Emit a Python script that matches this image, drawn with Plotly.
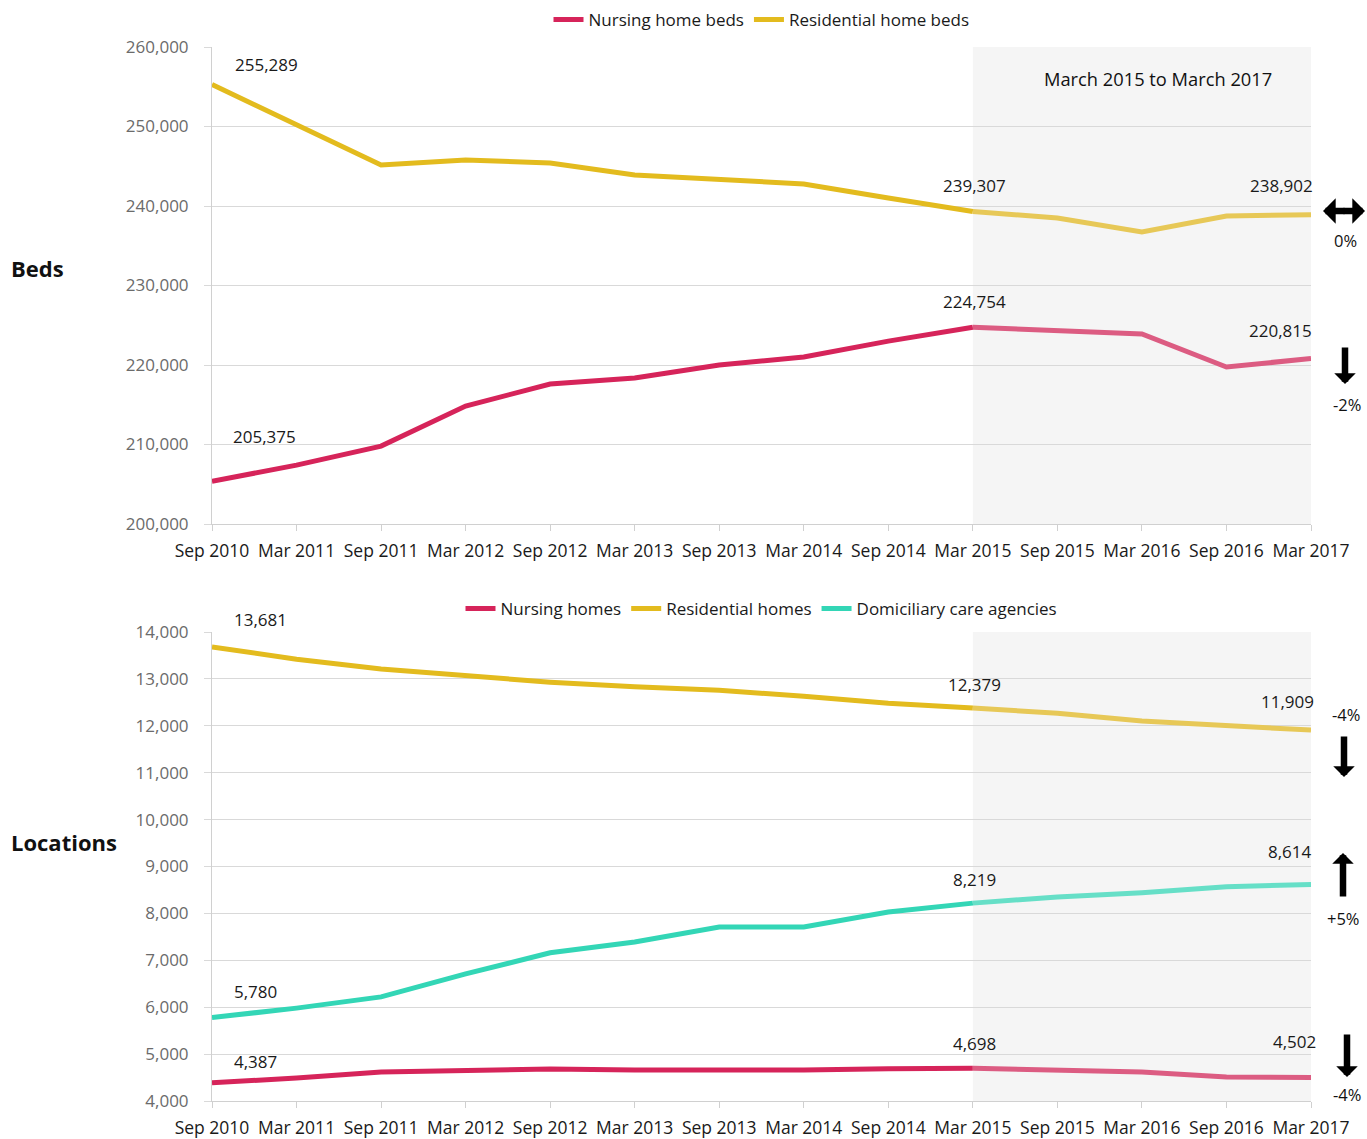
import plotly.graph_objects as go
from plotly.subplots import make_subplots

periods = ["Sep 2010", "Mar 2011", "Sep 2011", "Mar 2012", "Sep 2012", "Mar 2013", "Sep 2013",
           "Mar 2014", "Sep 2014", "Mar 2015", "Sep 2015", "Mar 2016", "Sep 2016", "Mar 2017"]

nursing_beds = [205375, 207400, 209800, 214840, 217600, 218360, 220000, 221000, 223000,
                224754, 224400, 223900, 219750, 220815]
residential_beds = [255289, 250200, 245160, 245790, 245400, 243900, 243400, 242770, 241000,
                    239307, 238490, 236730, 238740, 238902]

nursing_homes = [4387, 4490, 4620, 4660, 4680, 4660, 4660, 4660, 4690,
                 4698, 4670, 4620, 4510, 4502]
residential_homes = [13681, 13420, 13210, 13060, 12930, 12830, 12760, 12630, 12480,
                     12379, 12270, 12100, 12010, 11909]
domiciliary = [5780, 5980, 6220, 6710, 7160, 7390, 7710, 7710, 8030,
               8219, 8350, 8440, 8570, 8614]

beds_ticks = [200000, 210000, 220000, 230000, 240000, 250000, 260000]
loc_ticks = list(range(4000, 15000, 1000))

FONT = "Open Sans"
RED, RED_L = "#d6245a", "#dc5c82"
GOLD, GOLD_L = "#e3bb1e", "#e7c857"
TEAL, TEAL_L = "#33d6b6", "#66dfc7"

W, H = 1367, 1139
ML, MR, MT, MB = 212, 56, 47, 38
PH = H - MT - MB

def py(pix):
    return (H - MB - pix) / PH

fig = make_subplots(rows=2, cols=1)
fig.update_layout(yaxis=dict(domain=[py(524), 1.0]), yaxis2=dict(domain=[0, py(632)]))

x = list(range(len(periods)))
split = periods.index("Mar 2015")

def add_series(vals, name, c, cl, row, legend):
    fig.add_trace(go.Scatter(x=x[:split + 1], y=vals[:split + 1], mode="lines", name=name,
                             line=dict(color=c, width=5), legend=legend, showlegend=True,
                             hoverinfo="skip"), row=row, col=1)
    fig.add_trace(go.Scatter(x=x[split:], y=vals[split:], mode="lines", name=name,
                             line=dict(color=cl, width=5), legend=legend, showlegend=False,
                             hoverinfo="skip"), row=row, col=1)

add_series(nursing_beds, "Nursing home beds", RED, RED_L, 1, "legend")
add_series(residential_beds, "Residential home beds", GOLD, GOLD_L, 1, "legend")
add_series(nursing_homes, "Nursing homes", RED, RED_L, 2, "legend2")
add_series(residential_homes, "Residential homes", GOLD, GOLD_L, 2, "legend2")
add_series(domiciliary, "Domiciliary care agencies", TEAL, TEAL_L, 2, "legend2")

# shaded period
for xr, yref in [("x", "y domain"), ("x2", "y2 domain")]:
    fig.add_shape(type="rect", xref=xr, yref=yref, x0=split, x1=len(periods) - 1, y0=0, y1=1,
                  fillcolor="#f5f5f5", line_width=0, layer="below")

axis_common = dict(showgrid=False, showline=True, linecolor="#d0d0d0", linewidth=1,
                   ticks="outside", tickcolor="#d0d0d0", ticklen=6, ticklabelstandoff=5,
                   tickvals=x, ticktext=periods, range=[0, len(periods) - 1],
                   tickfont=dict(family=FONT, size=17.5, color="#1a1a1a"), zeroline=False,
                   automargin=False)
fig.update_xaxes(**axis_common)

yax_common = dict(showgrid=True, gridcolor="#d9d9d9", gridwidth=1, showline=True,
                  linecolor="#d0d0d0", ticks="outside", tickcolor="#d9d9d9", ticklen=7,
                  ticklabelstandoff=12, automargin=False,
                  tickformat=",", tickfont=dict(family=FONT, size=17, color="#6b6b6b"),
                  zeroline=False)
fig.update_yaxes(range=[beds_ticks[0], beds_ticks[-1]], tickvals=beds_ticks, row=1, col=1, **yax_common)
fig.update_yaxes(range=[loc_ticks[0], loc_ticks[-1]], tickvals=loc_ticks, row=2, col=1, **yax_common)

def label(xref, yref, i, v, dx, dy):
    fig.add_annotation(xref=xref, yref=yref, x=i, y=v, text=f"{v:,}", showarrow=False,
                       xshift=dx, yshift=dy, font=dict(family=FONT, size=17, color="#1a1a1a"))

last = len(periods) - 1
label("x", "y", 0, residential_beds[0], 54, 20)
label("x", "y", split, residential_beds[split], 2, 26)
label("x", "y", last, residential_beds[last], -30, 29)
label("x", "y", split, nursing_beds[split], 2, 26)
label("x", "y", last, nursing_beds[last], -31, 28)
label("x", "y", 0, nursing_beds[0], 52, 45)

label("x2", "y2", 0, residential_homes[0], 48, 27)
label("x2", "y2", split, residential_homes[split], 2, 24)
label("x2", "y2", last, residential_homes[last], -24, 29)
label("x2", "y2", last, domiciliary[last], -21, 33)
label("x2", "y2", split, domiciliary[split], 2, 24)
label("x2", "y2", 0, domiciliary[0], 43, 26)
label("x2", "y2", 0, nursing_homes[0], 43, 21)
label("x2", "y2", split, nursing_homes[split], 2, 25)
label("x2", "y2", last, nursing_homes[last], -17, 36)

def px(pix):
    return (pix - ML) / (W - ML - MR)

def text(xp, ypix, t, size=14, bold=False, anchor="center"):
    fig.add_annotation(xref="paper", yref="paper", x=px(xp), y=py(ypix), text=f"<b>{t}</b>" if bold else t,
                       showarrow=False, xanchor=anchor, yanchor="middle",
                       font=dict(family=FONT, size=size, color="#111111"))

text(1158, 78, "March 2015 to March 2017", 18.3)
text(9, 268, "Beds", 22, True, "left")
text(9, 842, "Locations", 22, True, "left")

text(1345, 240, "0%", 16.5)
text(1347, 405, "-2%", 16.5)
text(1346, 714, "-4%", 16.5)
text(1343, 918, "+5%", 16.5)
text(1347, 1094, "-4%", 16.5)

def arrow(x0, y0, x1, y1, size=0.55):
    fig.add_annotation(xref="paper", yref="paper", x=px(x1), y=py(y1),
                       ax=x0 - x1, ay=y0 - y1, axref="pixel", ayref="pixel",
                       showarrow=True, arrowhead=1, arrowsize=size,
                       arrowwidth=6.5, arrowcolor="#000000", text="")

arrow(1346, 211, 1323, 211, 0.65)
arrow(1342, 211, 1365, 211, 0.65)
arrow(1345, 346, 1345, 384)
arrow(1344, 735, 1344, 777)
arrow(1343, 898, 1343, 853)
arrow(1347, 1033, 1347, 1077)

fig.update_layout(
    width=W, height=H, margin=dict(l=ML, r=MR, t=MT, b=MB, autoexpand=False),
    paper_bgcolor="white", plot_bgcolor="white",
    font=dict(family=FONT),
    legend=dict(orientation="h", x=0.5, xanchor="center", y=py(20), yanchor="middle",
                font=dict(family=FONT, size=17, color="#1a1a1a"), itemwidth=30,
                bgcolor="rgba(0,0,0,0)"),
    legend2=dict(orientation="h", x=0.5, xanchor="center", y=py(609), yanchor="middle",
                 font=dict(family=FONT, size=17, color="#1a1a1a"), itemwidth=30,
                 bgcolor="rgba(0,0,0,0)"),
)

fig.write_html("out.html", post_script="document.body.style.margin='0';",
               config={"displayModeBar": False})
